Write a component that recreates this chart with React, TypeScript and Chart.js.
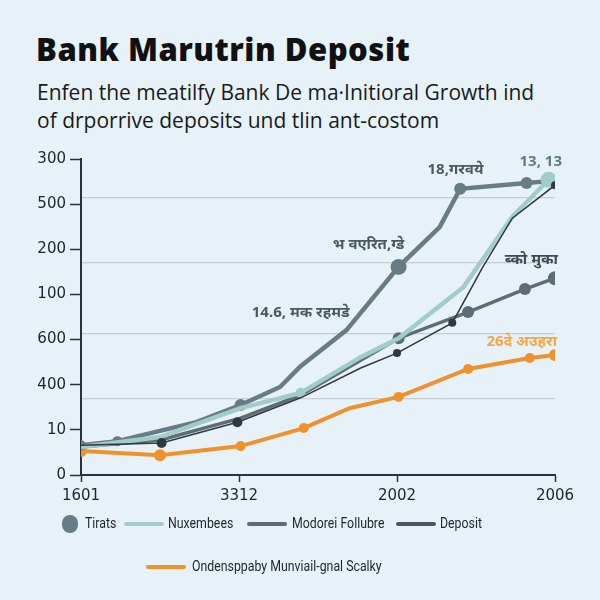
import React, { useEffect, useRef } from "react";
import { Chart, registerables } from "chart.js";
Chart.register(...registerables);

const xTickLabels = ["1601", "3312", "2002", "2006"];
const yTickLabels = ["0", "10", "400", "600", "100", "200", "500", "300"];
const gridValues = [1.69, 3.13, 4.7, 6.14];

const tiratsX = [0, 0.23, 0.73, 1.01, 1.26, 1.39, 1.68, 2.01, 2.27, 2.4, 2.82, 2.96];
const tiratsY = [0.66, 0.75, 1.17, 1.55, 1.95, 2.41, 3.21, 4.61, 5.49, 6.34, 6.47, 6.51];

const nuxX = [0, 0.5, 1.01, 1.39, 1.77, 2.01, 2.42, 2.73, 2.96];
const nuxY = [0.62, 0.84, 1.48, 1.82, 2.61, 3.03, 4.16, 5.72, 6.54];

const modX = [0, 0.51, 1.01, 1.39, 2.01, 2.45, 2.81, 3.0];
const modY = [0.62, 0.78, 1.26, 1.77, 3.03, 3.61, 4.12, 4.36];

const depX = [0, 0.51, 0.99, 1.39, 1.77, 2.0, 2.35, 2.54, 2.73, 3.0];
const depY = [0.66, 0.71, 1.17, 1.71, 2.37, 2.7, 3.37, 4.59, 5.69, 6.42];

const ondX = [0, 0.5, 1.01, 1.41, 1.7, 2.01, 2.45, 2.84, 3.0];
const ondY = [0.53, 0.44, 0.64, 1.04, 1.48, 1.73, 2.35, 2.59, 2.66];

const annTexts = ["14.6, मक रहमडे", "भ वएरित,ग्डे", "18,गरवये", "13, 13", "ब्को मुका", "26दे अउहरा"];
const annX = [1.39, 1.82, 2.37, 2.91, 2.85, 2.79];
const annY = [3.59, 5.1, 6.76, 6.93, 4.76, 2.95];
const annColors = ["#4b5a61", "#4b5a61", "#4b5a61", "#5f7a80", "#3f4a50", "#f2a845"];

const pts = (xs: number[], ys: number[]) => xs.map((x, i) => ({ x, y: ys[i] }));

const annotationPlugin = {
  id: "ann",
  afterDatasetsDraw(chart: any) {
    const { ctx, scales } = chart;
    ctx.save();
    ctx.textAlign = "center";
    ctx.textBaseline = "middle";
    annTexts.forEach((t, i) => {
      ctx.font = "bold 15px 'Noto Sans', 'DejaVu Sans', sans-serif";
      ctx.fillStyle = annColors[i];
      ctx.fillText(t, scales.x.getPixelForValue(annX[i]), scales.y.getPixelForValue(annY[i]));
    });
    ctx.restore();
  },
};

export default function App() {
  const ref = useRef<HTMLCanvasElement>(null);
  useEffect(() => {
    document.body.style.margin = "0";
    const chart = new Chart(ref.current!, {
      type: "line",
      data: {
        datasets: [
          {
            label: "Tirats",
            data: pts(tiratsX, tiratsY),
            borderColor: "#687c85",
            backgroundColor: "#687c85",
            borderWidth: 4.5,
            pointRadius: [5, 5, 0, 6, 0, 0, 0, 8, 0, 6, 6, 0],
            pointBorderWidth: 0,
            tension: 0,
            order: 2,
          },
          {
            label: "Nuxembees",
            data: pts(nuxX, nuxY),
            borderColor: "#a2cccc",
            backgroundColor: "#a2cccc",
            borderWidth: 4.5,
            pointRadius: [0, 0, 0, 5, 0, 0, 0, 0, 8],
            pointBorderWidth: 0,
            tension: 0,
            order: 1,
          },
          {
            label: "Modorei Follubre",
            data: pts(modX, modY),
            borderColor: "#5e6d72",
            backgroundColor: "#5e6d72",
            borderWidth: 3.5,
            pointRadius: [0, 0, 0, 0, 6, 6, 6, 7],
            pointBorderWidth: 0,
            tension: 0,
            order: 3,
          },
          {
            label: "Deposit",
            data: pts(depX, depY),
            borderColor: "#2e383d",
            backgroundColor: "#2e383d",
            borderWidth: 1.5,
            pointRadius: [0, 5, 5, 0, 0, 4, 4, 0, 0, 4],
            pointBorderWidth: 0,
            tension: 0,
            order: 0,
          },
          {
            label: "Ondensppaby Munviail-gnal Scalky",
            data: pts(ondX, ondY),
            borderColor: "#f0922c",
            backgroundColor: "#f0922c",
            borderWidth: 4,
            pointRadius: [6, 6, 5, 5, 0, 5, 5, 5, 6],
            pointBorderWidth: 0,
            tension: 0,
            order: 4,
          },
        ],
      },
      options: {
        responsive: false,
        animation: false,
        layout: { padding: { left: 0, right: 45, top: 159, bottom: 95 } },
        plugins: { legend: { display: false }, tooltip: { enabled: false } },
        scales: {
          x: {
            type: "linear",
            min: 0,
            max: 3,
            afterBuildTicks: (s: any) => {
              s.ticks = xTickLabels.map((_, i) => ({ value: i }));
            },
            afterFit: (s: any) => {
              s.height = 30;
            },
            ticks: {
              callback: (v: any) => xTickLabels[v],
              color: "#1e2428",
              font: { family: "'DejaVu Sans', sans-serif", size: 15 },
              padding: 5,
              maxRotation: 0,
            },
            grid: { drawOnChartArea: false, tickLength: 7, tickColor: "#2a3238", tickWidth: 1.5 },
            border: { color: "#2a3238", width: 2 },
          },
          y: {
            min: 0,
            max: 7,
            afterBuildTicks: (s: any) => {
              s.ticks = yTickLabels.map((_, i) => ({ value: i }));
            },
            afterFit: (s: any) => {
              s.width = 81;
            },
            ticks: {
              callback: (v: any) => yTickLabels[v],
              color: "#1e2428",
              font: { family: "'DejaVu Sans', sans-serif", size: 15 },
              padding: 4,
            },
            grid: { drawOnChartArea: false, tickLength: 11, tickColor: "#2a3238", tickWidth: 1.5 },
            border: { color: "#2a3238", width: 2 },
          },
          yGrid: {
            position: "right",
            min: 0,
            max: 7,
            afterBuildTicks: (s: any) => {
              s.ticks = gridValues.map((v) => ({ value: v }));
            },
            afterFit: (s: any) => {
              s.width = 0;
            },
            ticks: { display: false },
            grid: { drawTicks: false, color: "#c3cfd5", lineWidth: 1.2 },
            border: { display: false },
          },
        },
      } as any,
      plugins: [annotationPlugin],
    });
    return () => chart.destroy();
  }, []);

  const lbl: React.CSSProperties = {
    position: "absolute",
    fontFamily: "Roboto, sans-serif",
    fontSize: 14.5,
    color: "#1e2428",
    lineHeight: "16px",
    transform: "scaleX(0.85)",
    transformOrigin: "left center",
    whiteSpace: "nowrap",
  };
  const line = (left: number, top: number, color: string): React.CSSProperties => ({
    position: "absolute",
    left,
    top,
    width: 40,
    height: 4,
    borderRadius: 2,
    background: color,
  });

  return (
    <div
      style={{
        position: "fixed",
        left: 0,
        top: 0,
        width: 600,
        height: 600,
        background: "#e6f2f8",
        overflow: "hidden",
      }}
    >
      <div
        style={{
          position: "absolute",
          left: 36,
          top: 28,
          fontFamily: "'Open Sans', sans-serif",
          fontWeight: 800,
          fontSize: 31,
          letterSpacing: 0.5,
          color: "#111",
          whiteSpace: "nowrap",
        }}
      >
        Bank Marutrin Deposit
      </div>
      <div
        style={{
          position: "absolute",
          left: 37,
          top: 78,
          fontFamily: "'Open Sans', sans-serif",
          fontSize: 21,
          lineHeight: "28px",
          color: "#1a1a1a",
          whiteSpace: "nowrap",
        }}
      >
        Enfen the meatilfy Bank De ma·Initioral Growth ind
        <br />
        of drporrive deposits und tlin ant-costom
      </div>
      <canvas ref={ref} width={600} height={600} style={{ position: "absolute", left: 0, top: 0 }} />
      <div style={{ position: "absolute", left: 62, top: 515, width: 16, height: 18, borderRadius: 9, background: "#687c85" }} />
      <div style={{ ...lbl, left: 85, top: 516 }}>Tirats</div>
      <div style={line(124, 522, "#a2cccc")} />
      <div style={{ ...lbl, left: 168, top: 516 }}>Nuxembees</div>
      <div style={line(247, 522, "#5e6d72")} />
      <div style={{ ...lbl, left: 292, top: 516 }}>Modorei Follubre</div>
      <div style={line(396, 522, "#4a565c")} />
      <div style={{ ...lbl, left: 440, top: 516 }}>Deposit</div>
      <div style={line(146, 565, "#f0922c")} />
      <div style={{ ...lbl, left: 192, top: 559 }}>Ondensppaby Munviail-gnal Scalky</div>
    </div>
  );
}
